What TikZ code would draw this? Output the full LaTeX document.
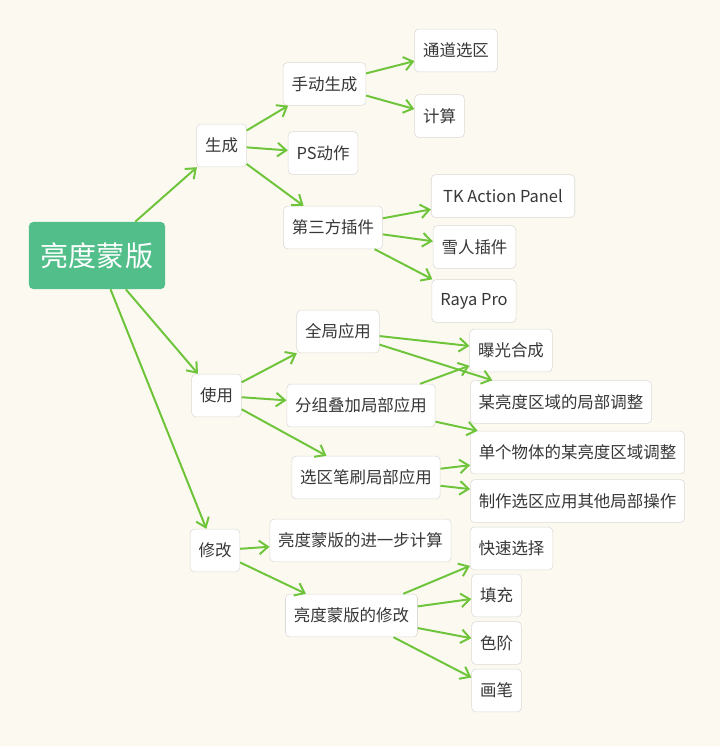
\documentclass[tikz,border=0pt]{standalone}
\usepackage{fontspec}
\setmainfont{Noto Sans CJK SC}
\usetikzlibrary{arrows.meta}
\definecolor{bgcream}{RGB}{252,249,240}
\definecolor{rootgreen}{RGB}{82,190,138}
\definecolor{linegreen}{RGB}{110,196,58}
\definecolor{boxline}{RGB}{218,218,214}
\definecolor{boxtext}{RGB}{55,55,55}
\begin{document}
\begin{tikzpicture}[
    x=0.025cm, y=-0.025cm,
    myroot/.style={rectangle, fill=rootgreen, text=white, rounded corners=3pt, minimum width=3.4cm, minimum height=1.675cm, font=\fontsize{20}{24}\selectfont},
    mybox/.style={rectangle, draw=boxline, fill=white, rounded corners=3pt, text=boxtext, minimum height=1.07cm, inner xsep=0.21cm, font=\fontsize{11.7}{14}\selectfont},
    myarrow/.style={-{Straight Barb[length=2.2mm, width=3.4mm]}, draw=linegreen, line width=1.4pt},
]
\fill[bgcream] (0,0) rectangle (720,746);
\useasboundingbox (0,0) rectangle (720,746);

\node[myroot] (root) at (97,255.5) {亮度蒙版};

% 生成
\node[mybox] (gen) at (221.5,145.5) {生成};
\node[mybox] (manual) at (324.5,84) {手动生成};
\node[mybox] (chan) at (456,50.5) {通道选区};
\node[mybox] (calc) at (439.5,116) {计算};
\node[mybox] (psact) at (323,153) {PS动作};
\node[mybox] (third) at (333,227.5) {第三方插件};
\node[mybox, inner xsep=0.3cm] (tk) at (503,196) {TK Action Panel};
\node[mybox] (snow) at (474.5,247) {雪人插件};
\node[mybox] (raya) at (474,301) {Raya Pro};

% 使用
\node[mybox] (use) at (216.5,395.5) {使用};
\node[mybox] (glob) at (338,331.5) {全局应用};
\node[mybox] (group) at (361,405.5) {分组叠加局部应用};
\node[mybox] (brush) at (366,477.5) {选区笔刷局部应用};
\node[mybox] (expo) at (511,350.5) {曝光合成};
\node[mybox] (local) at (561,402) {某亮度区域的局部调整};
\node[mybox] (single) at (577.5,452.5) {单个物体的某亮度区域调整};
\node[mybox] (make) at (577.5,501) {制作选区应用其他局部操作};

% 修改
\node[mybox] (mod) at (215,550.5) {修改};
\node[mybox] (further) at (360.5,540.5) {亮度蒙版的进一步计算};
\node[mybox] (modify) at (351.5,615.5) {亮度蒙版的修改};
\node[mybox] (quick) at (511.5,548.5) {快速选择};
\node[mybox] (fillb) at (496.5,595.5) {填充};
\node[mybox] (level) at (496.5,643) {色阶};
\node[mybox] (pen) at (496.5,690.5) {画笔};

\draw[myarrow] (root) -- (gen);
\draw[myarrow] (root) -- (use);
\draw[myarrow] (root) -- (mod);

\draw[myarrow] (gen) -- (manual);
\draw[myarrow] (gen) -- (psact);
\draw[myarrow] (gen) -- (third);
\draw[myarrow] (manual) -- (chan);
\draw[myarrow] (manual) -- (calc);
\draw[myarrow] (third) -- (tk);
\draw[myarrow] (third) -- (snow);
\draw[myarrow] (third) -- (raya);

\draw[myarrow] (use) -- (glob);
\draw[myarrow] (use) -- (group);
\draw[myarrow] (use) -- (brush);
\draw[myarrow] (glob) -- (expo);
\draw[myarrow] (glob) -- (local);
\draw[myarrow] (group) -- (expo);
\draw[myarrow] (group) -- (single);
\draw[myarrow] (brush) -- (single);
\draw[myarrow] (brush) -- (make);

\draw[myarrow] (mod) -- (further);
\draw[myarrow] (mod) -- (modify);
\draw[myarrow] (modify) -- (quick);
\draw[myarrow] (modify) -- (fillb);
\draw[myarrow] (modify) -- (level);
\draw[myarrow] (modify) -- (pen);
\end{tikzpicture}
\end{document}
